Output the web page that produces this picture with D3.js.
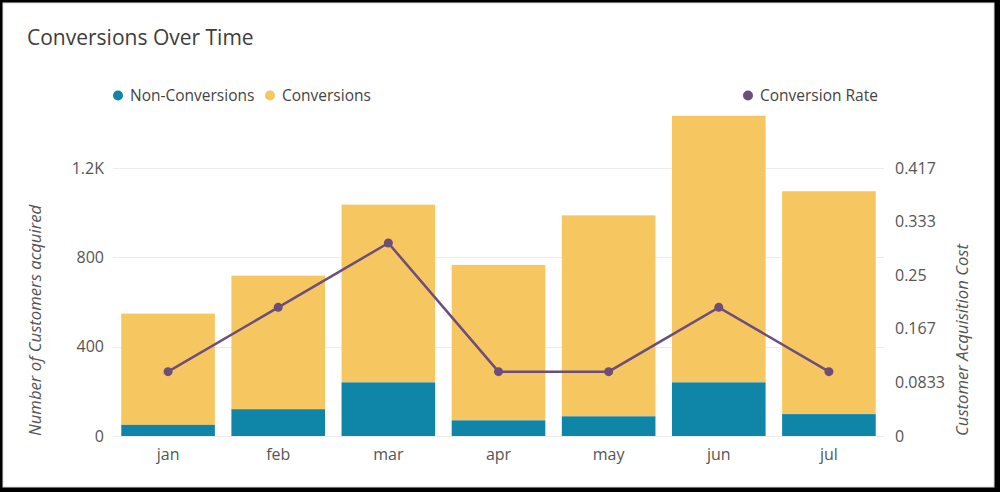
<!DOCTYPE html>
<html>
<head>
<meta charset="utf-8">
<script src="https://cdn.jsdelivr.net/npm/d3@7"></script>
<style>
  html, body { margin: 0; padding: 0; background: #000; }
  svg { display: block; font-family: "Open Sans", sans-serif; }
</style>
</head>
<body>
<script>
// data
const months = ["jan", "feb", "mar", "apr", "may", "jun", "jul"];
const nonConversions = [50, 120, 240, 70, 88, 240, 98];
const totals = [548, 718, 1036, 766, 988, 1434, 1096];
const conversionRate = [0.1, 0.2, 0.3, 0.1, 0.1, 0.2, 0.1];
const leftTicks = [0, 400, 800, 1200];
const rightTicks = [0, 1 / 12, 2 / 12, 3 / 12, 4 / 12, 5 / 12];

const width = 1000, height = 492;
const colors = { non: "#0f86a8", conv: "#f6c761", rate: "#6c4d7b" };

const svg = d3.select("body").append("svg")
  .attr("width", width)
  .attr("height", height);

// white card
svg.append("rect")
  .attr("x", 3).attr("y", 3)
  .attr("width", 991).attr("height", 484)
  .attr("fill", "#fff")
  .attr("stroke", "#ddd")
  .attr("stroke-width", 1);

const plot = { left: 113, right: 884, top: 114.4, bottom: 436 };

const x = d3.scaleBand()
  .domain(months)
  .range([plot.left, plot.right])
  .paddingInner(0.15)
  .paddingOuter(0.075);

const y = d3.scaleLinear().domain([0, 1440]).range([plot.bottom, plot.top]);
const y2 = d3.scaleLinear().domain([0, 0.5]).range([plot.bottom, plot.top]);

// title
svg.append("text")
  .attr("x", 27).attr("y", 45)
  .attr("font-size", 21)
  .attr("fill", "#3d3d3d")
  .text("Conversions Over Time");

// gridlines
svg.append("g")
  .selectAll("line")
  .data(leftTicks)
  .join("line")
  .attr("x1", plot.left).attr("x2", plot.right)
  .attr("y1", d => Math.round(y(d)) + 0.5)
  .attr("y2", d => Math.round(y(d)) + 0.5)
  .attr("stroke", "#ececec");

// left axis
const leftAxis = svg.append("g")
  .attr("transform", `translate(${plot.left - 6},0)`)
  .call(d3.axisLeft(y).tickValues(leftTicks).tickSize(0)
    .tickFormat(d => d >= 1000 ? d / 1000 + "K" : d));
leftAxis.select(".domain").remove();
leftAxis.selectAll("text")
  .attr("font-family", "Open Sans")
  .attr("font-size", 16)
  .attr("fill", "#555");

// right axis
const rightAxis = svg.append("g")
  .attr("transform", `translate(${plot.right + 8},0)`)
  .call(d3.axisRight(y2).tickValues(rightTicks).tickSize(0)
    .tickFormat(d3.format(".3~r")));
rightAxis.select(".domain").remove();
rightAxis.selectAll("text")
  .attr("font-family", "Open Sans")
  .attr("font-size", 16)
  .attr("fill", "#555");

// bottom axis
const bottomAxis = svg.append("g")
  .attr("transform", `translate(0,${plot.bottom + 10})`)
  .call(d3.axisBottom(x).tickSize(0));
bottomAxis.select(".domain").remove();
bottomAxis.selectAll("text")
  .attr("font-family", "Open Sans")
  .attr("font-size", 16)
  .attr("fill", "#555");

// axis titles
svg.append("text")
  .attr("transform", `translate(41,${plot.bottom}) rotate(-90)`)
  .attr("font-size", 16.7)
  .attr("font-style", "italic")
  .attr("fill", "#555")
  .text("Number of Customers acquired");

svg.append("text")
  .attr("transform", `translate(968,${plot.bottom}) rotate(-90)`)
  .attr("font-size", 16.7)
  .attr("font-style", "italic")
  .attr("fill", "#555")
  .text("Customer Acquisition Cost");

// stacked bars
const bars = svg.append("g");
bars.selectAll("rect.conv")
  .data(months)
  .join("rect")
  .attr("class", "conv")
  .attr("x", d => x(d))
  .attr("width", x.bandwidth())
  .attr("y", (d, i) => y(totals[i]))
  .attr("height", (d, i) => y(nonConversions[i]) - y(totals[i]))
  .attr("fill", colors.conv);

bars.selectAll("rect.non")
  .data(months)
  .join("rect")
  .attr("class", "non")
  .attr("x", d => x(d))
  .attr("width", x.bandwidth())
  .attr("y", (d, i) => y(nonConversions[i]))
  .attr("height", (d, i) => y(0) - y(nonConversions[i]))
  .attr("fill", colors.non);

// conversion rate line
const line = d3.line()
  .x((d, i) => x(months[i]) + x.bandwidth() / 2)
  .y(d => y2(d));

svg.append("path")
  .datum(conversionRate)
  .attr("d", line)
  .attr("fill", "none")
  .attr("stroke", colors.rate)
  .attr("stroke-width", 2.5);

svg.append("g")
  .selectAll("circle")
  .data(conversionRate)
  .join("circle")
  .attr("cx", (d, i) => x(months[i]) + x.bandwidth() / 2)
  .attr("cy", d => y2(d))
  .attr("r", 4.5)
  .attr("fill", colors.rate);

// legend
const legendItems = [
  { label: "Non-Conversions", color: colors.non, x: 118 },
  { label: "Conversions", color: colors.conv, x: 270 },
  { label: "Conversion Rate", color: colors.rate, x: 748 }
];
const legend = svg.append("g")
  .selectAll("g")
  .data(legendItems)
  .join("g")
  .attr("transform", d => `translate(${d.x},95.5)`);
legend.append("circle")
  .attr("r", 5)
  .attr("fill", d => d.color);
legend.append("text")
  .attr("x", 12)
  .attr("dy", "0.35em")
  .attr("font-size", 15.5)
  .attr("fill", "#444")
  .text(d => d.label);
</script>
</body>
</html>
